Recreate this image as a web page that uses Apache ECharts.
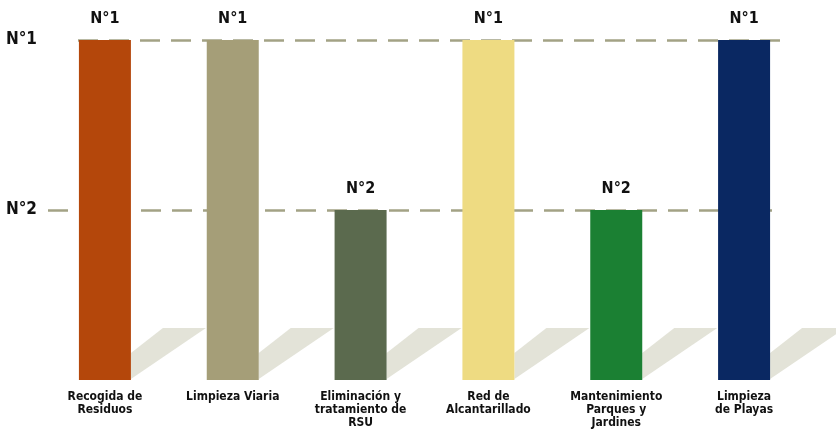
<!DOCTYPE html>
<html>
<head>
<meta charset="utf-8">
<script src="https://cdn.jsdelivr.net/npm/echarts@6/dist/echarts.min.js"></script>
<style>
html,body{margin:0;padding:0;background:#fff;}
#chart{width:836px;height:434px;}
</style>
</head>
<body>
<div id="chart"></div>
<script>
// ---- data ----
var categories = ['Recogida de\nResiduos', 'Limpieza Viaria', 'Eliminación y\ntratamiento de\nRSU', 'Red de\nAlcantarillado', 'Mantenimiento\nParques y\nJardines', 'Limpieza\nde Playas'];
var levels = [2, 2, 1, 2, 1, 2];          // bar height (2 = N°1, 1 = N°2)
var tickLabels = ['', 'N°2', 'N°1'];      // label for value 0, 1, 2
var barLabels = ['N°1', 'N°1', 'N°2', 'N°1', 'N°2', 'N°1'];

// ---- styles ----
var barColors = ['#B4470B', '#A59E78', '#5B6A4E', '#EEDB82', '#1B8033', '#0A2862'];
var FONT = "'Liberation Sans Narrow', 'DejaVu Sans Condensed', 'Liberation Sans', sans-serif";
var BAR_W = 52;

var chart = echarts.init(document.getElementById('chart'), null, {renderer: 'canvas'});

var option = {
  animation: false,
  backgroundColor: '#ffffff',
  grid: {left: 41, right: 28, top: 40, bottom: 54, containLabel: false},
  xAxis: {
    type: 'category',
    data: categories,
    axisLine: {show: false},
    axisTick: {show: false},
    axisLabel: {
      interval: 0,
      margin: 10,
      fontFamily: FONT,
      fontWeight: 'bold',
      fontSize: 12,
      lineHeight: 13,
      color: '#111'
    }
  },
  yAxis: {
    type: 'value',
    min: 0, max: 2, interval: 1,
    axisLine: {show: false},
    axisTick: {show: false},
    splitLine: {show: false},
    axisLabel: {
      margin: 4,
      fontFamily: FONT,
      fontWeight: 'bold',
      fontSize: 17,
      color: '#111',
      formatter: function (v) { return tickLabels[Math.round(v)] || ''; }
    }
  },
  series: [
    {
      type: 'custom',
      z: 1,
      silent: true,
      clip: false,
      data: levels.map(function (v, i) { return [i, v]; }),
      renderItem: function (params, api) {
        var base = api.coord([api.value(0), 0]);
        var xr = base[0] + BAR_W / 2;
        var y = base[1];
        return {
          type: 'polygon',
          shape: {points: [[xr, y - 27], [xr + 32, y - 52], [xr + 75, y - 52], [xr, y - 1]]},
          style: {fill: '#E3E3D8'}
        };
      }
    },
    {
      type: 'line',
      z: 1,
      data: [],
      silent: true,
      markLine: {
        z: 1,
        silent: true,
        symbol: 'none',
        label: {show: false},
        lineStyle: {color: '#A3A285', type: [20, 11], width: 2.5},
        data: [
          [{x: 78, yAxis: 2}, {x: 782, yAxis: 2}],
          [{x: 48, yAxis: 1}, {x: 772, yAxis: 1}]
        ]
      }
    },
    {
      type: 'bar',
      z: 3,
      barWidth: BAR_W,
      data: levels.map(function (v, i) {
        return {value: v, itemStyle: {color: barColors[i]}};
      }),
      label: {
        show: true,
        position: 'top',
        distance: 13,
        fontFamily: FONT,
        fontWeight: 'bold',
        fontSize: 16,
        color: '#111',
        formatter: function (p) { return barLabels[p.dataIndex]; }
      }
    }
  ]
};
chart.setOption(option);
</script>
</body>
</html>
